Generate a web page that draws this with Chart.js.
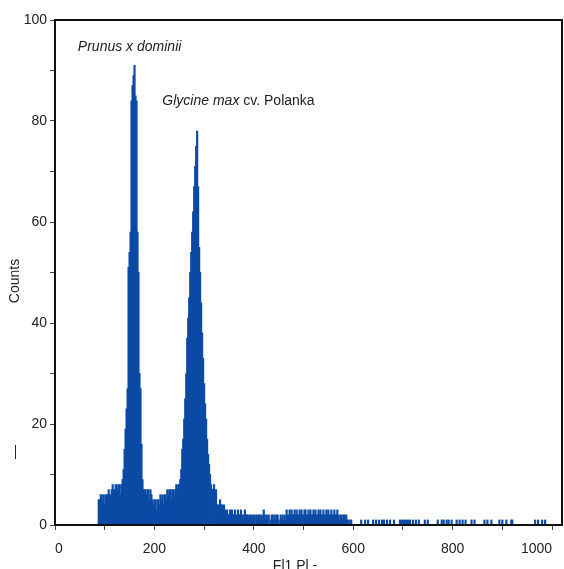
<!DOCTYPE html>
<html>
<head>
<meta charset="utf-8">
<script src="https://cdn.jsdelivr.net/npm/chart.js@4.4.0/dist/chart.umd.min.js"></script>
<style>
html, body { margin: 0; padding: 0; background: #fff; }
</style>
</head>
<body>
<canvas id="histChart" width="564" height="569"></canvas>
<script>
// Histogram channels: dense part starts at channel 88, one bin every 2 channels
const startChannel = 88;
const binWidth = 2;
const counts = [
    5, 5, 6, 6, 5, 6, 4, 6,
    6, 6, 7, 6, 6,
    7, 8, 7, 7, 8,
    8, 7, 8, 8, 6, 8,
    9,
    // first peak (Prunus x dominii)
    11, 15, 19, 23, 27, 51, 54, 58, 84, 87, 89, 91, 85, 84, 58, 50, 30, 27, 16, 9, 7,
    // valley
    7, 7, 6, 7, 7, 5, 7, 6,
    5, 4, 5, 5, 3, 5, 5, 4,
    6, 5, 6, 4, 6, 6, 5,
    7, 6, 7, 7, 5, 7, 7, 6, 7,
    8, 7, 8, 8,
    // second peak (Glycine max)
    9, 11, 15, 17, 21, 25, 30, 37, 41, 45, 50, 54, 58, 62, 67, 71, 75, 78, 67, 55,
    50, 44, 38, 33, 28, 24, 21, 17, 14, 12, 10, 8, 7,
    7, 8, 6, 7,
    4, 4, 3, 5, 4, 4, 3, 4,
    // tail
    3, 2, 3, 2, 2, 3, 1, 3, 2, 2, 3, 2, 1, 3, 2, 2, 3, 2, 2, 1, 3, 2, 2,
    2, 1, 2, 2, 1, 2, 1, 2, 0, 2, 1, 2, 2, 1, 2, 1, 3, 2, 1, 2, 1, 2, 0, 1, 2,
    2, 1, 2, 1, 2, 2, 1, 0, 2, 1, 2, 1, 2, 1,
    3, 2, 2, 3, 2, 3, 2, 2, 3, 2, 3, 2, 2, 3, 2, 3, 2, 2, 3, 3, 2, 2, 3, 2, 3,
    2, 2, 3, 2, 3, 2, 2, 3, 2, 3, 2, 2, 3, 2, 2, 3, 2, 3, 2, 2, 3, 2, 2, 3, 2,
    2, 3, 2, 1, 2, 2, 1, 2, 2, 1, 2,
    1, 1, 0, 1, 1
];
// sparse single events above channel 600
const tailChannels = [616, 624, 630, 640, 646, 652, 658, 662, 668, 674, 682, 694, 698, 702, 706,
    710, 714, 720, 726, 732, 744, 750, 770, 778, 782, 788, 792, 798, 808, 814, 820, 826, 838,
    844, 864, 870, 878, 894, 900, 908, 918, 920, 966, 972, 980, 986];
const tailCounts = tailChannels.map(() => 1);

const xLabelStep = 200;
const yLabelStep = 20;

const fontFamily = '"Liberation Sans", Arial, sans-serif';

// Build points for the bar dataset
const points = counts.map((c, i) => ({ x: startChannel + i * binWidth, y: c }))
    .concat(tailChannels.map((ch, i) => ({ x: ch, y: tailCounts[i] })));

// Frame and text labels
const framePlugin = {
    id: 'frame',
    afterDraw(chart) {
        const { ctx, chartArea, scales } = chart;
        ctx.save();
        ctx.strokeStyle = '#111';
        ctx.lineWidth = 2;
        ctx.strokeRect(chartArea.left, chartArea.top,
            chartArea.right - chartArea.left, chartArea.bottom - chartArea.top);

        ctx.fillStyle = '#222';
        ctx.textBaseline = 'middle';
        ctx.textAlign = 'left';

        // Prunus x dominii
        ctx.font = 'italic 14px ' + fontFamily;
        ctx.fillText('Prunus x dominii', scales.x.getPixelForValue(46), scales.y.getPixelForValue(94.6));

        // Glycine max cv. Polanka
        const gx = scales.x.getPixelForValue(216);
        const gy = scales.y.getPixelForValue(83.9);
        ctx.fillText('Glycine max', gx, gy);
        const w = ctx.measureText('Glycine max').width;
        ctx.font = '14px ' + fontFamily;
        ctx.fillText(' cv. Polanka', gx + w, gy);

        // axis titles
        ctx.textAlign = 'center';
        ctx.fillText('Fl1 Pl -', 295, 566);
        ctx.save();
        ctx.translate(15, 281);
        ctx.rotate(-Math.PI / 2);
        ctx.fillText('Counts', 0, 0);
        ctx.restore();
        ctx.save();
        ctx.translate(15, 452);
        ctx.rotate(-Math.PI / 2);
        ctx.fillText('\u2014', 0, 0);
        ctx.restore();
        ctx.restore();
    }
};

function initializeHistogram() {
    const ctx = document.getElementById('histChart').getContext('2d');
    new Chart(ctx, {
        type: 'bar',
        data: {
            datasets: [{
                data: points,
                backgroundColor: '#0b4aa5',
                borderWidth: 0,
                barThickness: 1.5
            }]
        },
        options: {
            responsive: false,
            animation: false,
            layout: { padding: { top: 20, right: 2, left: 0, bottom: 0 } },
            plugins: {
                legend: { display: false },
                tooltip: { enabled: false }
            },
            scales: {
                x: {
                    type: 'linear',
                    min: 0,
                    max: 1020,
                    offset: false,
                    afterFit: (s) => {
                        s.height = 44;
                        s.paddingLeft = 0;
                        s.paddingRight = 0;
                    },
                    afterBuildTicks: (s) => {
                        s.ticks = [];
                        for (let v = 0; v <= 1000; v += 100) s.ticks.push({ value: v });
                    },
                    ticks: {
                        autoSkip: false,
                        maxRotation: 0,
                        align: 'inner',
                        padding: 11,
                        color: '#222',
                        font: { family: fontFamily, size: 14 },
                        callback: (v) => (v % xLabelStep === 0 ? v : '')
                    },
                    grid: { offset: false, drawOnChartArea: false, drawTicks: true, tickLength: 5, color: '#444' },
                    border: { display: true, color: '#111', width: 2 }
                },
                y: {
                    min: 0,
                    max: 100,
                    afterFit: (s) => {
                        s.width = 55;
                        s.paddingTop = 0;
                        s.paddingBottom = 0;
                    },
                    ticks: {
                        stepSize: 10,
                        autoSkip: false,
                        padding: 3,
                        color: '#222',
                        font: { family: fontFamily, size: 14 },
                        callback: (v) => (v % yLabelStep === 0 ? v : '')
                    },
                    grid: { drawOnChartArea: false, drawTicks: true, tickLength: 5, color: '#444' },
                    border: { display: true, color: '#111', width: 2 }
                }
            }
        },
        plugins: [framePlugin]
    });
}

document.addEventListener('DOMContentLoaded', initializeHistogram);
</script>
</body>
</html>
